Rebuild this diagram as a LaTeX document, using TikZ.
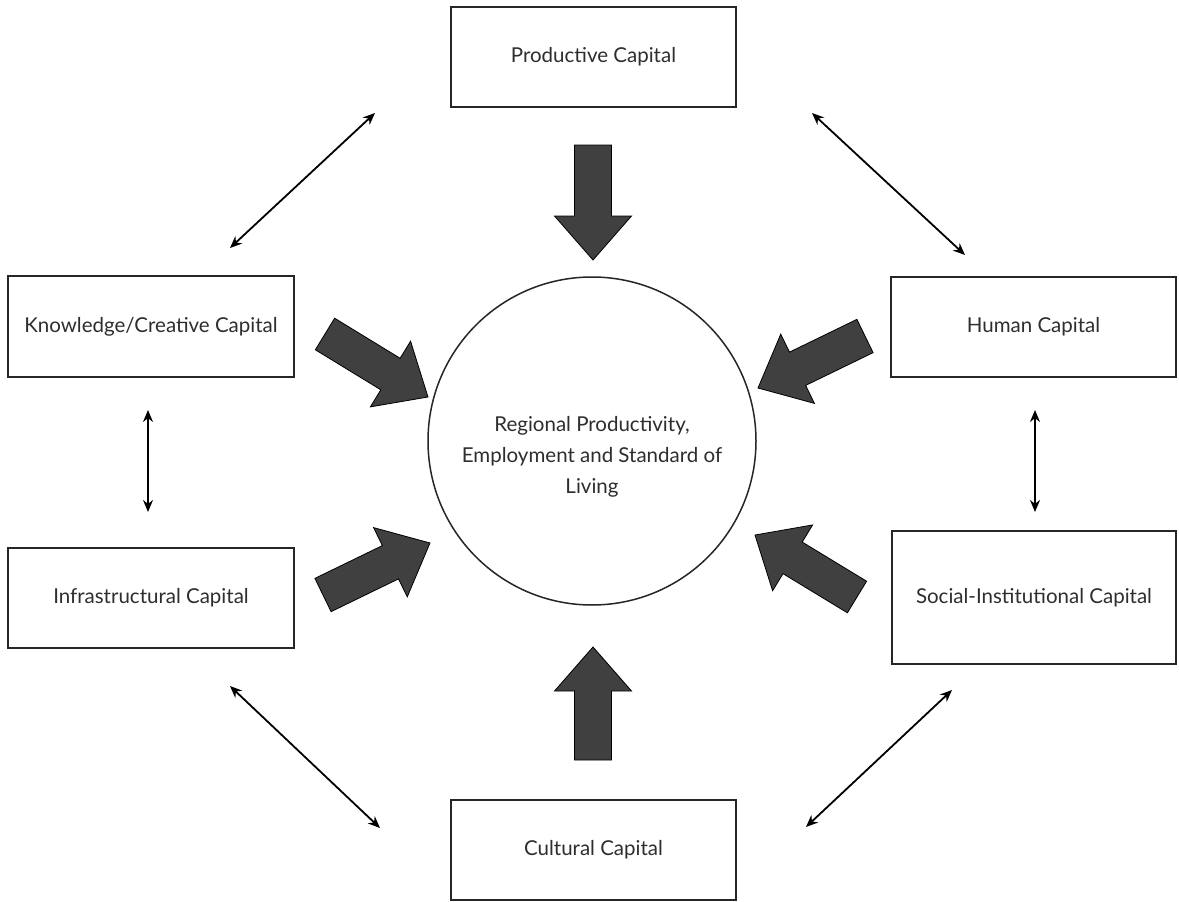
\documentclass[tikz,border=0pt]{standalone}
\usepackage{fontspec}
\setmainfont{Lato}
\usetikzlibrary{calc,arrows.meta}
\newcommand\blockarrow[2]{%
  \coordinate (BAt) at (#1);
  \coordinate (BAp) at (#2);
  \coordinate (BAh) at ($(BAp)!44pt!(BAt)$);
  \fill[bigfill] ($(BAt)!18.5pt!90:(BAp)$) -- ($(BAh)!18.5pt!-90:(BAt)$) --
    ($(BAh)!38.5pt!-90:(BAt)$) -- (BAp) -- ($(BAh)!38.5pt!90:(BAt)$) --
    ($(BAh)!18.5pt!90:(BAt)$) -- ($(BAt)!18.5pt!-90:(BAp)$) -- cycle;
}
\begin{document}
\begin{tikzpicture}[x=1pt,y=-1pt,
  box/.style={draw=black!85,line width=1.5pt,inner sep=0pt,align=center,
    font=\fontsize{20.5}{26}\selectfont,text=black!82},
  bigfill/.style={fill=black!75,draw=black,line width=0.8pt,line join=miter},
  thin/.style={line width=1.8pt,{Stealth[length=12pt,width=10pt]}-{Stealth[length=12pt,width=10pt]}}]
\useasboundingbox (0,0) rectangle (1179,902);
\fill[white] (0,0) rectangle (1179,902);

\node[box,minimum width=285pt,minimum height=100pt] (prod) at (593.5,57) {Productive Capital};
\node[box,minimum width=286pt,minimum height=101pt] (know) at (151,326.5) {Knowledge/Creative Capital};
\node[box,minimum width=285pt,minimum height=100pt] (hum) at (1033.5,327) {Human Capital};
\node[box,minimum width=286pt,minimum height=100pt] (infra) at (151,598) {Infrastructural Capital};
\node[box,minimum width=284pt,minimum height=133pt] (soc) at (1034,597.5) {Social-Institutional Capital};
\node[box,minimum width=285pt,minimum height=100pt] (cult) at (593.5,850) {Cultural Capital};
\node[circle,draw=black!85,line width=1.5pt,minimum size=328pt,inner sep=0pt] (reg) at (592,441) {};
\node[align=center,inner sep=0pt,font=\fontsize{20.5}{31}\selectfont,text=black!82] (regtxt) at (592,457)
  {Regional Productivity,\\Employment and Standard of\\Living};

% big arrows
\blockarrow{593,145}{593,260}
\blockarrow{593,760}{593,647}
\blockarrow{325,334}{428,397}
\blockarrow{323,595}{430,543}
\blockarrow{865,336}{758,388}
\blockarrow{857,597}{755,535}

% thin double arrows
\coordinate (a1) at (375,113); \coordinate (a2) at (230,248);
\coordinate (b1) at (812,113); \coordinate (b2) at (965,255);
\coordinate (c1) at (148,410); \coordinate (c2) at (148,512);
\coordinate (d1) at (1035,410); \coordinate (d2) at (1035,512);
\coordinate (e1) at (230,686); \coordinate (e2) at (380,828);
\coordinate (f1) at (952,690); \coordinate (f2) at (806,827);
\draw[thin] (a1) -- (a2);
\draw[thin] (b1) -- (b2);
\draw[thin] (c1) -- (c2);
\draw[thin] (d1) -- (d2);
\draw[thin] (e1) -- (e2);
\draw[thin] (f1) -- (f2);
\end{tikzpicture}
\end{document}
